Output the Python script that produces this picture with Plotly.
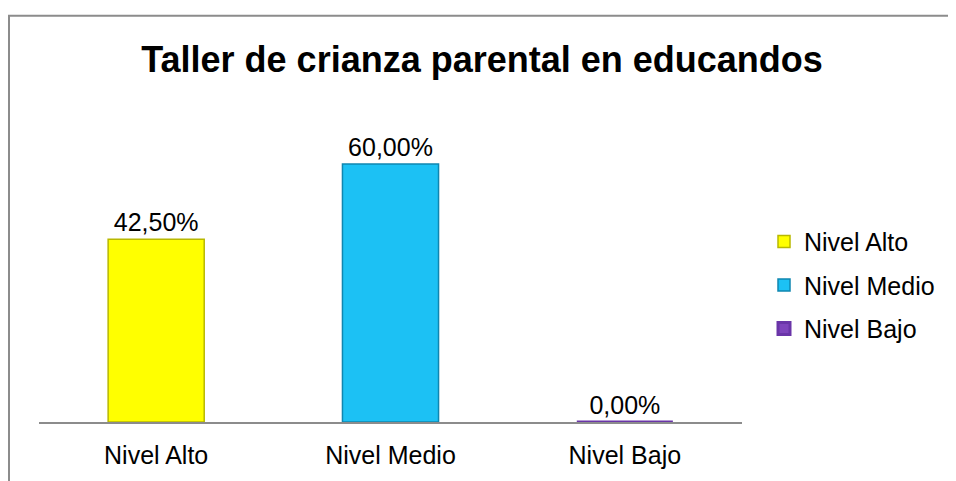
import plotly.graph_objects as go

categorias = ['Nivel Alto', 'Nivel Medio', 'Nivel Bajo']
porcentajes = [0.425, 0.60, 0.0]
colores = ['#FFFF00', '#1CC1F4', '#7E44BC']
bordes = ['#B8B800', '#0F86B0', '#6A35A8']
grosores = [1.5, 1.5, 3]

# la página añade 8 px de margen al cuerpo
W, H = 948, 473
L, R, T, B = 31, 214, 113, 54
pw, ph = W - L - R, H - T - B

fig = go.Figure()

for cat, val, col, borde, gr in zip(categorias, porcentajes, colores, bordes, grosores):
    fig.add_trace(
        go.Bar(
            x = [cat], y = [val], name = cat, legendgroup = cat,
            marker = dict(color = col, line = dict(color = borde, width = gr)),
            texttemplate = '%{y:.2%}', textposition = 'outside',
            textfont = dict(size = 25, color = '#000000'),
            cliponaxis = False,
        )
    )

# marco del gráfico
fig.add_shape(
    type = 'rect', xref = 'paper', yref = 'paper',
    x0 = (1 - L) / pw, x1 = (W + 20 - L) / pw,
    y0 = (T + ph - (H + 20)) / ph, y1 = (T + ph - 6) / ph,
    line = dict(color = '#8c8c8c', width = 2), fillcolor = 'rgba(0,0,0,0)',
    layer = 'below',
)

fig.update_layout(
    width = W, height = H,
    margin = dict(l = L, r = R, t = T, b = B),
    paper_bgcolor = 'white', plot_bgcolor = 'white',
    separators = ',.',
    barmode = 'overlay', bargap = 0.59,
    font = dict(family = 'Liberation Sans, Arial, sans-serif', size = 25, color = '#000000'),
    title = dict(
        text = '<b>Taller de crianza parental en educandos</b>',
        x = 0.5, xanchor = 'center', y = 1 - 51 / H, yanchor = 'middle',
        font = dict(size = 36, color = '#000000'),
    ),
    xaxis = dict(
        showline = True, linecolor = '#8c8c8c', linewidth = 2,
        showgrid = False, ticks = '', tickfont = dict(size = 25),
        ticklabelstandoff = 10,
    ),
    yaxis = dict(range = [0, 0.7], visible = False),
    legend = dict(
        x = (756 - L) / pw, xanchor = 'left',
        y = (T + ph - 280) / ph, yanchor = 'middle',
        font = dict(size = 25), itemwidth = 30, tracegroupgap = 8,
    ),
    showlegend = True,
)

fig.write_html('out.html')
